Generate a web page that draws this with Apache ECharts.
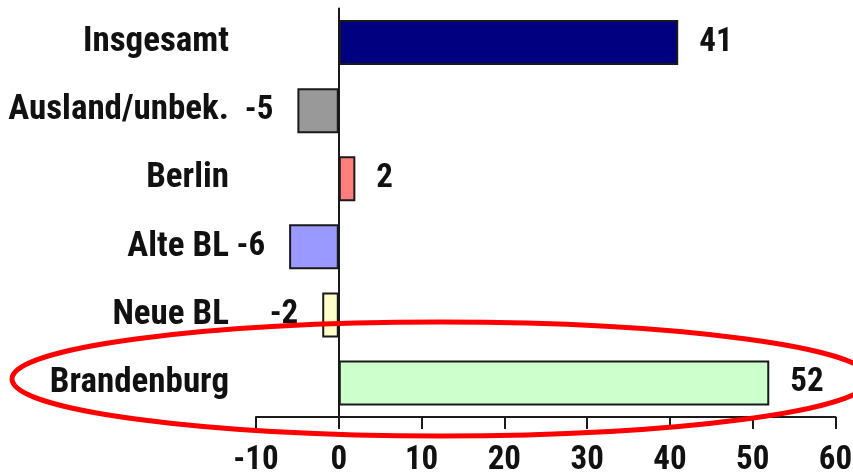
<!DOCTYPE html>
<html>
<head>
<meta charset="utf-8">
<script src="https://cdn.jsdelivr.net/npm/echarts@6/dist/echarts.min.js"></script>
<style>
  html, body { margin: 0; padding: 0; background: #fff; }
  #chart { width: 853px; height: 473px; }
</style>
</head>
<body>
<div id="chart"></div>
<script>
// Daten
const categories = ['Insgesamt', 'Ausland/unbek.', 'Berlin', 'Alte BL', 'Neue BL', 'Brandenburg']
const values = [41, -5, 2, -6, -2, 52]
const xMin = -10
const xMax = 60
const xStep = 10

// Farben je Balken
const barColors = ['#000080', '#999999', '#ff7f7f', '#9999ff', '#ffffcc', '#ccffcc']

const font = '"Roboto Condensed", "Liberation Sans", sans-serif'

const chart = echarts.init(document.getElementById('chart'))

const option = {
  backgroundColor: '#fff',
  animation: false,
  grid: {
    left: 256,
    right: 17.5,
    top: 8.5,
    bottom: 56,
    containLabel: false,
    outerBoundsMode: 'none'
  },
  xAxis: {
    type: 'value',
    min: xMin,
    max: xMax,
    interval: xStep,
    axisLine: { show: true, onZero: false, lineStyle: { color: '#1a1a1a', width: 2 } },
    axisTick: { show: true, length: 12, lineStyle: { color: '#1a1a1a', width: 2 } },
    axisLabel: {
      color: '#111',
      fontFamily: font,
      fontWeight: 'bold',
      fontSize: 33,
      margin: 27
    },
    splitLine: { show: false }
  },
  yAxis: {
    type: 'category',
    data: categories,
    inverse: true,
    axisLine: { show: true, onZero: true, lineStyle: { color: '#1a1a1a', width: 2 } },
    axisTick: { show: false },
    axisLabel: {
      color: '#111',
      fontFamily: font,
      fontWeight: 'bold',
      fontSize: 35,
      margin: 27
    }
  },
  series: [
    {
      type: 'bar',
      barWidth: 45,
      data: values.map((v, i) => ({
        value: v,
        itemStyle: { color: barColors[i] },
        label: { position: v < 0 ? 'left' : 'right', distance: v < 0 ? 24 : 21 }
      })),
      itemStyle: {
        borderColor: '#1a1a1a',
        borderWidth: 2
      },
      label: {
        show: true,
        color: '#111',
        fontFamily: font,
        fontWeight: 'bold',
        fontSize: 33
      }
    }
  ],
  graphic: [
    {
      type: 'ellipse',
      z: 100,
      shape: { cx: 441, cy: 379, rx: 429, ry: 57 },
      style: { fill: 'none', stroke: '#ff0000', lineWidth: 5 }
    }
  ]
}

chart.setOption(option)
</script>
</body>
</html>
